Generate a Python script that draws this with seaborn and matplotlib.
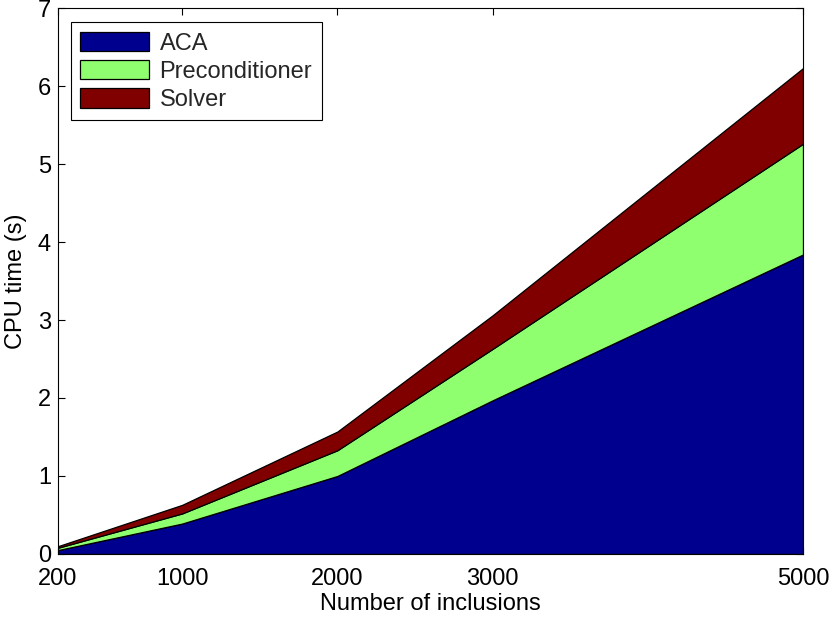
import matplotlib
matplotlib.use("Agg")
import matplotlib.pyplot as plt
import seaborn as sns
import numpy as np

# data
inclusions = [200, 1000, 2000, 3000, 5000]
aca = [0.05, 0.39, 1.00, 1.97, 3.84]
precond = [0.03, 0.13, 0.33, 0.66, 1.42]
solver = [0.02, 0.11, 0.24, 0.43, 0.97]
labels = ["ACA", "Preconditioner", "Solver"]
colors = ["#00008F", "#8FFF70", "#800000"]

sns.set_theme(style="ticks")
plt.rcParams['font.family'] = ['Liberation Sans', 'DejaVu Sans']

fig = plt.figure(figsize=(8.3, 6.18), dpi=100)
ax = fig.add_axes([0.0699, 0.1036, 0.8976, 0.8834])

ax.stackplot(inclusions, aca, precond, solver, labels=labels, colors=colors,
             edgecolor="black", linewidth=0.9)

ax.set_xlim(200, 5000)
ax.set_ylim(0, 7)
ax.set_xticks(inclusions)
ax.set_yticks(range(0, 8))
ax.tick_params(direction="in", top=True, right=True, labelsize=17, length=5,
               width=0.8, colors="black")
ax.tick_params(axis="x", pad=10)
ax.tick_params(axis="y", pad=5)
for s in ax.spines.values():
    s.set_color("black")
    s.set_linewidth(0.8)
ax.set_xlabel("Number of inclusions", fontsize=17, color="black", labelpad=2)
ax.set_ylabel("CPU time (s)", fontsize=17, color="black", labelpad=8)

leg = ax.legend(loc="upper left", bbox_to_anchor=(0.0174, 0.974), borderaxespad=0,
                fontsize=17, handlelength=2.9, handleheight=0.9, labelspacing=0.22,
                fancybox=False, edgecolor="black", framealpha=1, borderpad=0.4,
                handletextpad=0.45)
leg.get_frame().set_linewidth(0.8)

fig.savefig("out.png", dpi=100)
